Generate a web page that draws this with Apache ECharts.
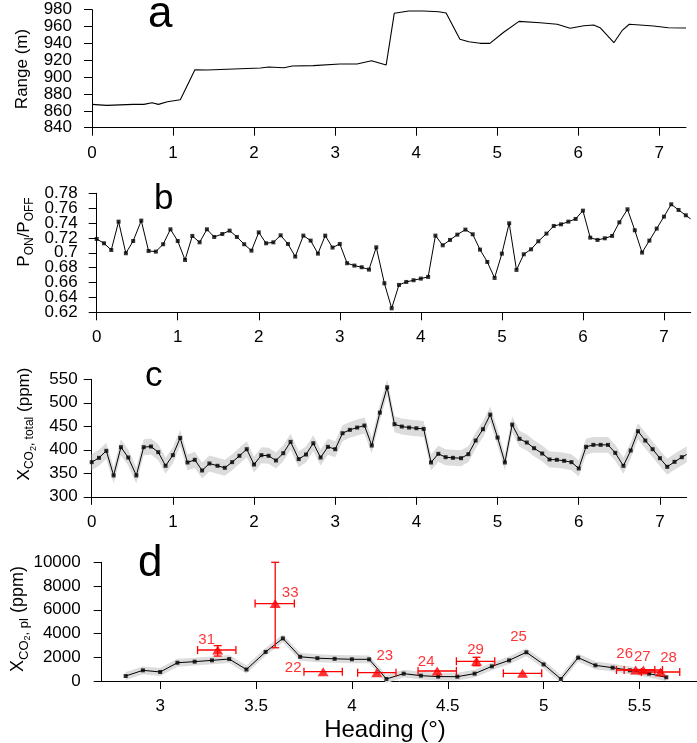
<!DOCTYPE html>
<html><head><meta charset="utf-8">
<script src="https://cdn.jsdelivr.net/npm/echarts@6/dist/echarts.min.js"></script>
<style>html,body{margin:0;padding:0;background:#fff}#chart{width:697px;height:743px}</style>
</head><body><div id="chart"></div>
<script>
// ---------------- DATA ----------------
// panel a: range vs heading
const rangeHeading = [0, 0.18, 0.51, 0.64, 0.74, 0.82, 0.93, 1.09, 1.27, 1.42, 1.75, 2.08, 2.18, 2.37, 2.47, 2.73, 3.06, 3.27, 3.45, 3.63, 3.73, 3.91, 4.09, 4.28, 4.37, 4.54, 4.65, 4.79, 4.91, 5.08, 5.27, 5.53, 5.74, 5.90, 6.07, 6.19, 6.27, 6.44, 6.54, 6.63, 6.93, 7.11, 7.33];
const rangeValues = [867.7, 866.5, 867.7, 867.7, 869.6, 867.7, 870.8, 873.2, 908.8, 908.4, 909.6, 910.8, 912, 911.2, 913.2, 913.6, 915.6, 915.6, 919.5, 914.4, 975.7, 978.5, 978.5, 977.6, 976.1, 944.9, 942, 940.1, 940.1, 953.2, 966.2, 964.6, 962.7, 957.9, 961, 961.8, 958.6, 940.8, 955.1, 962.7, 960.7, 958.6, 958.3];

// panels b, c: heading of each measurement
const heading = [0, 0.09, 0.18, 0.27, 0.36, 0.45, 0.55, 0.64, 0.73, 0.82, 0.91,
  1.00, 1.09, 1.18, 1.27, 1.36, 1.45, 1.55, 1.64, 1.73, 1.82, 1.91,
  2.00, 2.09, 2.18, 2.27, 2.36, 2.45, 2.55, 2.64, 2.73, 2.82, 2.91,
  3.00, 3.09, 3.18, 3.27, 3.36, 3.45, 3.55, 3.64, 3.73, 3.82, 3.91,
  4.00, 4.09, 4.18, 4.27, 4.36, 4.45, 4.55, 4.64, 4.73, 4.82, 4.91,
  5.00, 5.09, 5.18, 5.27, 5.36, 5.45, 5.55, 5.64, 5.73, 5.82, 5.91,
  6.00, 6.09, 6.18, 6.27, 6.36, 6.45, 6.55, 6.64, 6.73, 6.82, 6.91,
  7.00, 7.09, 7.18, 7.27];
// panel b: P_ON / P_OFF
const ratioValues = [0.7186, 0.7128, 0.7038, 0.7419, 0.6994, 0.7159, 0.7433, 0.7025, 0.7016, 0.7115, 0.7316,
  0.7159, 0.6904, 0.7227, 0.7141, 0.7316, 0.7213, 0.7253, 0.7298, 0.7213, 0.7115, 0.7029,
  0.7275, 0.7128, 0.7141, 0.7235, 0.7119, 0.6949, 0.7231, 0.7164, 0.6989, 0.7231, 0.707,
  0.7119, 0.686, 0.6828, 0.6806, 0.6774, 0.7074, 0.659, 0.6254, 0.6568, 0.6608, 0.6631,
  0.6653, 0.6676, 0.7231, 0.7101, 0.7173, 0.7244, 0.7312, 0.7249, 0.7043, 0.6877, 0.6662,
  0.6989, 0.7397, 0.677, 0.698, 0.7047, 0.7155, 0.7258, 0.7361, 0.7383, 0.7419, 0.7455,
  0.7567, 0.7204, 0.7173, 0.7195, 0.7227, 0.741, 0.7585, 0.7303, 0.7003, 0.7164, 0.7325,
  0.7486, 0.7652, 0.7576, 0.7504];
const ratioTail = [7.33, 0.7455];
// panel c: X_CO2,total (ppm)
const xco2Total = [373.7, 382.9, 397.8, 345.4, 405.6, 383.6, 345.4, 405.6, 407, 395, 366,
  388.6, 425.4, 373, 378.7, 356, 370.9, 366, 361.7, 373.7, 387.2, 401.3,
  368.7, 388.6, 387.2, 377.2, 392.8, 416.9, 380.1, 390, 414, 383.6, 406.3,
  401.3, 435.3, 442.4, 447.3, 451.6, 409.1, 479.2, 533, 454.4, 449.5, 447.3,
  445.9, 444.5, 373, 391.4, 384.3, 382.9, 382.2, 390.7, 419.7, 443.8, 474.9,
  426.1, 373, 453.7, 423.3, 415.5, 403.4, 392.1, 379.4, 378.7, 376.5, 373.7,
  360.3, 406.3, 410.5, 410.5, 410.5, 393.5, 365.9, 398.5, 439.6, 419.7, 401.3,
  382.2, 363.8, 374.4, 384.3];
const xco2TotalTail = [7.33, 390];
const xco2TotalUncert = 17;
// panel d: X_CO2,pl (ppm)
const plHeading = [2.82, 2.91, 3.00, 3.09, 3.18, 3.27, 3.36, 3.45, 3.55, 3.64, 3.73, 3.82, 3.91, 4.00, 4.09, 4.18, 4.27, 4.36, 4.45, 4.55, 4.64, 4.73, 4.82, 4.91, 5.00, 5.09, 5.18, 5.27, 5.36, 5.45, 5.55, 5.64];
const xco2Pl = [420, 900, 760, 1540, 1630, 1740, 1850, 970, 2450, 3590, 2040, 1920, 1870, 1830, 1825, 170, 620, 450, 370, 365, 620, 1235, 1740, 2420, 1400, 170, 1965, 1320, 1120, 900, 620, 310];
const xco2PlUncert = 330;
// plume reference measurements (red)
const plumeIds = ['31', '33', '22', '23', '24', '29', '25', '26', '27', '28'];
const plumeHeading = [3.30, 3.60, 3.85, 4.13, 4.445, 4.65, 4.89, 5.48, 5.52, 5.61];
const plumeValue = [2610, 6525, 783, 700, 842, 1659, 648, 926, 926, 758];
const plumeHeadingLo = [3.195, 3.495, 3.75, 4.03, 4.345, 4.545, 4.79, 5.38, 5.42, 5.51];
const plumeHeadingHi = [3.395, 3.70, 3.95, 4.23, 4.545, 4.745, 4.99, 5.58, 5.62, 5.71];
const plumeValueLo = [2100, 2800, null, null, null, 1290, null, null, null, null];
const plumeValueHi = [2980, 10000, null, null, null, 2000, null, null, null, null];
// tick labels
const headingTicks = [0, 1, 2, 3, 4, 5, 6, 7];
const headingTicksD = [3, 3.5, 4, 4.5, 5, 5.5];
const ratioTicksA = [0.62, 0.66, 0.7, 0.74, 0.78];
const ratioTicksB = [0.64, 0.68, 0.72, 0.76];

// ---------------- LAYOUT / STYLE ----------------
const FONT = '"Liberation Sans", Arial, sans-serif';
const labelOffsets = {'31': [-11, -10], '33': [15, -11], '22': [-30, -4], '23': [8, -17], '24': [-11, -9],
  '29': [-1, -11], '25': [-4, -36], '26': [-11, -16], '27': [-1, -13], '28': [8, -14]};

const axisLineStyle = {show: true, lineStyle: {color: '#000', width: 1}};
const tickStyle = {show: true, length: 8, lineStyle: {color: '#000', width: 1}};
function xAxis(gi, min, max, ticks) {
  return {type: 'value', gridIndex: gi, min: min, max: max,
    axisLine: axisLineStyle, splitLine: {show: false},
    axisTick: Object.assign({customValues: ticks}, tickStyle),
    axisLabel: {customValues: ticks, color: '#000', fontSize: 17, fontFamily: FONT, margin: 17}};
}
function yAxis(gi, min, max, interval, margin, ticks) {
  const ax = {type: 'value', gridIndex: gi, min: min, max: max, interval: interval, position: 'left',
    axisLine: axisLineStyle, splitLine: {show: false}, axisTick: Object.assign({}, tickStyle),
    axisLabel: {color: '#000', margin: margin, fontSize: 17, fontFamily: FONT,
      showMinLabel: true, showMaxLabel: true, hideOverlap: false,
      formatter: v => String(+(+v).toFixed(4))}};
  if (ticks) { ax.axisTick.customValues = ticks; ax.axisLabel.customValues = ticks; }
  return ax;
}
function bandSeries(idx, xs, ys, half, tail) {
  return {type: 'custom', xAxisIndex: idx, yAxisIndex: idx, silent: true, z: 1,
    data: [[xs[0], ys[0]]],
    renderItem: function (params, api) {
      const up = [], lo = [];
      for (let i = 0; i < xs.length; i++) {
        up.push(api.coord([xs[i], ys[i] + half]));
        lo.push(api.coord([xs[i], ys[i] - half]));
      }
      if (tail) { up.push(api.coord([tail[0], tail[1] + half])); lo.push(api.coord([tail[0], tail[1] - half])); }
      return {type: 'polygon', shape: {points: up.concat(lo.reverse())}, style: {fill: '#dcdcdc'}};
    }};
}
function pairs(xs, ys) { return xs.map((x, i) => [x, ys[i]]); }

const RED = '#ff0000';
function seg(a, b) { return {type: 'line', shape: {x1: a[0], y1: a[1], x2: b[0], y2: b[1]}, style: {stroke: RED, lineWidth: 1.3}}; }

const ratioAxis2 = yAxis(1, 0.62, 0.78, null, 19, ratioTicksB);
ratioAxis2.axisLine = {show: false};
ratioAxis2.offset = 0;

const option = {
  animation: false,
  textStyle: {fontFamily: FONT},
  grid: [
    {left: 92, width: 594, top: 9.7, height: 118},
    {left: 96.7, width: 594, top: 193.3, height: 119},
    {left: 91.7, width: 595, top: 379.3, height: 117.5},
    {left: 101.7, right: 0, top: 562.3, height: 118.7}
  ],
  xAxis: [
    xAxis(0, 0, 7.33, headingTicks),
    xAxis(1, 0, 7.33, headingTicks),
    xAxis(2, 0, 7.33, headingTicks),
    xAxis(3, 2.695, 5.8, headingTicksD)
  ],
  yAxis: [
    yAxis(0, 840, 980, 20, 20),
    yAxis(1, 0.62, 0.78, null, 19, ratioTicksA),
    yAxis(2, 300, 550, 50, 14),
    yAxis(3, 0, 10000, 2000, 21),
    ratioAxis2
  ],
  series: [
    {type: 'line', xAxisIndex: 0, yAxisIndex: 0, data: pairs(rangeHeading, rangeValues), showSymbol: false, symbol: 'none',
      lineStyle: {color: '#000', width: 1.1}},
    {type: 'line', xAxisIndex: 1, yAxisIndex: 1, data: pairs(heading, ratioValues).concat([ratioTail]), symbol: 'none',
      lineStyle: {color: '#000', width: 1}, clip: true},
    {type: 'scatter', xAxisIndex: 1, yAxisIndex: 1, data: pairs(heading, ratioValues), symbol: 'rect', symbolSize: 4,
      itemStyle: {color: '#000'}},
    bandSeries(2, heading, xco2Total, xco2TotalUncert, xco2TotalTail),
    {type: 'line', xAxisIndex: 2, yAxisIndex: 2, data: pairs(heading, xco2Total).concat([xco2TotalTail]), symbol: 'none',
      lineStyle: {color: '#000', width: 1}, z: 3},
    {type: 'scatter', xAxisIndex: 2, yAxisIndex: 2, data: pairs(heading, xco2Total), symbol: 'rect', symbolSize: 4,
      itemStyle: {color: '#000'}, z: 4},
    bandSeries(3, plHeading, xco2Pl, xco2PlUncert, null),
    {type: 'line', xAxisIndex: 3, yAxisIndex: 3, data: pairs(plHeading, xco2Pl), symbol: 'none',
      lineStyle: {color: '#000', width: 1}, z: 3},
    {type: 'scatter', xAxisIndex: 3, yAxisIndex: 3, data: pairs(plHeading, xco2Pl), symbol: 'rect', symbolSize: 4,
      itemStyle: {color: '#000'}, z: 4},
    {type: 'custom', xAxisIndex: 3, yAxisIndex: 3, z: 5, silent: true,
      data: pairs(plumeHeading, plumeValue),
      renderItem: function (params, api) {
        const i = params.dataIndex, cap = 4, y = plumeValue[i];
        const pL = api.coord([plumeHeadingLo[i], y]), pR = api.coord([plumeHeadingHi[i], y]);
        const ch = [seg(pL, pR), seg([pL[0], pL[1] - cap], [pL[0], pL[1] + cap]), seg([pR[0], pR[1] - cap], [pR[0], pR[1] + cap])];
        if (plumeValueLo[i] != null) {
          const pB = api.coord([plumeHeading[i], plumeValueLo[i]]), pT = api.coord([plumeHeading[i], plumeValueHi[i]]);
          ch.push(seg(pB, pT), seg([pB[0] - cap, pB[1]], [pB[0] + cap, pB[1]]), seg([pT[0] - cap, pT[1]], [pT[0] + cap, pT[1]]));
        }
        return {type: 'group', children: ch};
      }},
    {type: 'scatter', xAxisIndex: 3, yAxisIndex: 3, z: 6,
      data: plumeHeading.map((x, i) => ({value: [x, plumeValue[i]],
        label: {show: true, formatter: plumeIds[i], position: 'inside', offset: labelOffsets[plumeIds[i]],
          color: RED, fontSize: 15, fontFamily: FONT}})),
      symbol: 'triangle', symbolSize: [11, 9], itemStyle: {color: RED}}
  ],
  graphic: [
    {type: 'text', x: 148, y: 15, style: {text: 'a', font: '44px ' + FONT, fill: '#000', align: 'left', verticalAlign: 'middle'}},
    {type: 'text', x: 154, y: 199, style: {text: 'b', font: '35px ' + FONT, fill: '#000', align: 'left', verticalAlign: 'middle'}},
    {type: 'text', x: 145, y: 376, style: {text: 'c', font: '35px ' + FONT, fill: '#000', align: 'left', verticalAlign: 'middle'}},
    {type: 'text', x: 138, y: 564, style: {text: 'd', font: '44px ' + FONT, fill: '#000', align: 'left', verticalAlign: 'middle'}},
    {type: 'text', x: 22, y: 69, rotation: Math.PI / 2,
      style: {text: 'Range (m)', font: '17px ' + FONT, fill: '#000', align: 'center', verticalAlign: 'middle'}},
    {type: 'text', x: 24, y: 232, rotation: Math.PI / 2,
      style: {text: '{m|P}{s|ON}{m|/P}{s|OFF}', fill: '#000', align: 'center', verticalAlign: 'middle',
        rich: {m: {fontSize: 17, fontFamily: FONT, fill: '#000'}, s: {fontSize: 12, fontFamily: FONT, padding: [12, 0, 0, 0], fill: '#000'}}}},
    {type: 'text', x: 24, y: 424, rotation: Math.PI / 2,
      style: {text: '{m|X}{s|CO}{ss|2}{s|, total}{m| (ppm)}', fill: '#000', align: 'center', verticalAlign: 'middle',
        rich: {m: {fontSize: 17, fontFamily: FONT}, s: {fontSize: 12, fontFamily: FONT, padding: [12, 0, 0, 0]},
          ss: {fontSize: 9, fontFamily: FONT, padding: [20, 0, 0, 0]}}}},
    {type: 'text', x: 18, y: 619, rotation: Math.PI / 2,
      style: {text: '{m|X}{s|CO}{ss|2}{s|, pl}{m| (ppm)}', fill: '#000', align: 'center', verticalAlign: 'middle',
        rich: {m: {fontSize: 18, fontFamily: FONT}, s: {fontSize: 13, fontFamily: FONT, padding: [12, 0, 0, 0]},
          ss: {fontSize: 9, fontFamily: FONT, padding: [20, 0, 0, 0]}}}},
    {type: 'text', x: 385, y: 730, style: {text: 'Heading (°)', font: '24px ' + FONT, fill: '#000', align: 'center', verticalAlign: 'middle'}}
  ]
};
const chart = echarts.init(document.getElementById('chart'), null, {renderer: 'canvas'});
chart.setOption(option);
</script></body></html>
